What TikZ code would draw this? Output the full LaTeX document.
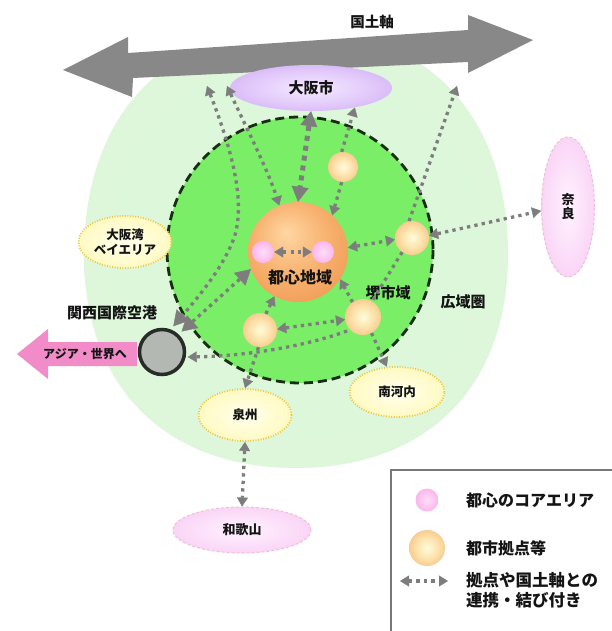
\documentclass[tikz,border=0pt]{standalone}
\usepackage{fontspec}
\setmainfont{Noto Sans CJK JP}
\usetikzlibrary{shapes.geometric,arrows.meta}

\pgfdeclareradialshading{paleG}{\pgfpointorigin}{rgb(0bp)=(0.86,0.965,0.85); rgb(38bp)=(0.875,0.97,0.865); rgb(50bp)=(0.925,0.982,0.92)}
\pgfdeclareradialshading{bigO}{\pgfpoint{-6bp}{10bp}}{rgb(0bp)=(1,0.84,0.64); rgb(18bp)=(0.97,0.70,0.44); rgb(50bp)=(0.91,0.50,0.22)}
\pgfdeclareradialshading{smallO}{\pgfpointorigin}{rgb(0bp)=(1,0.99,0.86); rgb(16bp)=(0.99,0.88,0.66); rgb(50bp)=(0.93,0.58,0.32)}
\pgfdeclareradialshading{pinkC}{\pgfpointorigin}{rgb(0bp)=(1,0.87,0.97); rgb(50bp)=(0.96,0.56,0.88)}
\pgfdeclareradialshading{yelE}{\pgfpointorigin}{rgb(0bp)=(1,1,0.93); rgb(25bp)=(1,0.98,0.76); rgb(50bp)=(1,0.92,0.42)}
\pgfdeclareradialshading{purE}{\pgfpointorigin}{rgb(0bp)=(0.96,0.92,1); rgb(20bp)=(0.88,0.78,0.98); rgb(50bp)=(0.73,0.52,0.93)}
\pgfdeclareradialshading{pinkE}{\pgfpointorigin}{rgb(0bp)=(1,0.95,1); rgb(50bp)=(0.96,0.72,0.93)}

\definecolor{igreen}{RGB}{122,238,102}
\definecolor{axisgray}{RGB}{136,136,136}
\definecolor{cgray}{RGB}{125,125,125}
\definecolor{asiapink}{RGB}{242,140,200}
\definecolor{ybord}{RGB}{236,200,70}
\definecolor{pbord}{RGB}{240,190,215}
\definecolor{airfill}{RGB}{180,184,178}
\definecolor{airbord}{RGB}{40,44,40}
\definecolor{txt}{RGB}{20,20,20}
\definecolor{leggray}{RGB}{120,120,120}

\tikzset{
  smtip/.tip={Triangle[length=9pt,width=11pt,line width=0.4pt]},
  bgtip/.tip={Triangle[length=15pt,width=17pt,line width=0.4pt]},
  dl/.style={draw=cgray, line width=3.3pt, dash pattern=on 3.3pt off 4.2pt},
  dlthick/.style={draw=cgray, line width=5pt, dash pattern=on 5pt off 5pt},
  lab/.style={text=txt, font=\bfseries\fontsize{15}{17}\selectfont, inner sep=0pt},
  obig/.style={circle, inner sep=0pt, minimum size=100pt, shade, shading=bigO},
  osm/.style={circle, inner sep=0pt, minimum size=#1, shade, shading=smallO},
  pinkc/.style={circle, inner sep=0pt, minimum size=#1, shade, shading=pinkC},
  yel/.style={ellipse, inner sep=0pt, minimum width=93pt, minimum height=52pt, shade, shading=yelE,
     draw=ybord, line width=1.8pt, dash pattern=on 1pt off 1.6pt, text=txt,
     font=\bfseries\fontsize{12.5}{15}\selectfont, align=center},
  pel/.style={ellipse, inner sep=0pt, shade, shading=pinkE, draw=pbord, line width=1pt,
     dash pattern=on 3pt off 2pt, text=txt, font=\bfseries\fontsize{13}{14}\selectfont, align=center},
}

\begin{document}
\begin{tikzpicture}[x=1pt,y=-1pt]
\useasboundingbox (0,0) rectangle (611,631);

% wide area (pale green)
\begin{scope}
  \clip (0,68) -- (611,44) -- (611,631) -- (0,631) -- cycle;
  \shade[shading=paleG] (296,30) .. controls (428,30) and (508,115) .. (508,255)
     .. controls (508,387) and (427,468) .. (296,468)
     .. controls (165,468) and (84,387) .. (84,255)
     .. controls (84,115) and (165,30) .. cycle;
\end{scope}

% Sakai city area (bright green, dashed)
\fill[igreen] (300,250) circle (133);
\draw[draw={rgb,255:red,25;green,45;blue,20}, line width=2.8pt, dash pattern=on 9pt off 5pt] (300,250) circle (133);

% national axis
\fill[axisgray] (63,70) -- (128,37) -- (128,53) -- (468,30) -- (468,15) -- (533,40)
   -- (468,73) -- (468,62) -- (133,78) -- (132,97) -- cycle;
\coordinate (ax1) at (207,86);
\coordinate (ax2) at (227,86);
\coordinate (ax3) at (457,86);
\node[lab, font=\bfseries\fontsize{14.5}{16}\selectfont] (kokudo) at (372,22) {国土軸};

% Asia arrow
\fill[asiapink] (17,354) -- (48,329) -- (48,342) -- (137,342) -- (137,366) -- (48,366) -- (48,379) -- cycle;
\node[lab, font=\bfseries\fontsize{12}{14}\selectfont] (asia) at (85,354) {アジア・世界へ};

% outer ellipses
\node[ellipse, inner sep=0pt, minimum width=162pt, minimum height=46pt, shade, shading=purE,
      text=txt, font=\bfseries\fontsize{15}{17}\selectfont] (osaka) at (311,88) {大阪市};
\node[yel] (bay) at (125,242) {大阪湾\\ベイエリア};
\node[yel] (sen) at (245,415) {泉州};
\node[yel, minimum width=95pt, minimum height=50pt] (nk) at (397,392) {南河内};
\node[pel, minimum width=53pt, minimum height=140pt] (nara) at (568,207) {奈\\良};
\node[pel, minimum width=138pt, minimum height=46pt] (waka) at (242,530) {和歌山};

% centre and hubs
\node[obig] (tosin) at (298,252) {};
\node[pinkc=22pt] (p1) at (263,252) {};
\node[pinkc=22pt] (p2) at (323,252) {};
\node[osm=30pt] (o1) at (343,167) {};
\node[osm=34pt] (o2) at (412,238) {};
\node[osm=34pt] (o3) at (260,330) {};
\node[osm=36pt] (o4) at (363,317) {};
\node[circle, inner sep=0pt, minimum size=45pt, fill=airfill, draw=airbord, line width=3.5pt] (air) at (162,352) {};

% labels
\node[lab, font=\bfseries\fontsize{16}{18}\selectfont] (tosinlab) at (300,277) {都心地域};
\node[lab] (sakai) at (388,293) {堺市域};
\node[lab] (koiki) at (463,302) {広域圏};
\node[lab] (kix) at (112,313) {関西国際空港};

% connectors
\draw[dl, smtip-bgtip, shorten >=4pt] (ax1) .. controls (232,150) and (245,200) .. (235,235)
   .. controls (225,265) and (200,295) .. (air.69);
\draw[dl, bgtip-bgtip, shorten <=4pt] (air.47) -- (tosin.200);
\draw[dl, smtip-smtip] (ax2) .. controls (245,125) and (268,170) .. (tosin.112);
\draw[dlthick, bgtip-bgtip] (osaka.south) -- (tosin.north);
\draw[dl, -smtip] (o1.95) -- (osaka.-24);
\draw[dl, -smtip] (o1.265) -- (tosin.47);
\draw[dl, -smtip] (o2.100) -- (ax3);
\draw[dl] (o2.235) -- (o4.60);
\draw[dl, -smtip] (o4.-62) -- (nk.112);
\draw[dl, smtip-smtip] (tosin.5) -- (o2.185);
\draw[dl, smtip-smtip] (o2.8) -- (nara.188);
\draw[dl, smtip-smtip] (p1.east) -- (p2.west);
\draw[dl, -smtip] (o4.125) -- (tosin.-33);
\draw[dl, smtip-smtip] (o3.3) -- (o4.188);
\draw[dl, smtip-, shorten <=2pt] (air.-12) .. controls (250,356) and (310,345) .. (o4.225);
\draw[dl, -smtip] (o3.70) -- (tosin.-118);
\draw[dl, -smtip] (o3.-95) -- (sen.north);
\draw[dl, smtip-smtip] (sen.south) -- (waka.north);

% legend
\draw[leggray, line width=1.3pt] (391,470) rectangle (625,645);
\node[pinkc=23pt] (lp) at (427,500) {};
\node[osm=36pt] (lo) at (427,548) {};
\coordinate (la1) at (400,581);
\coordinate (la2) at (448,581);
\draw[dl, smtip-smtip] (la1) -- (la2);
\node[lab, anchor=west, font=\bfseries\fontsize{16}{18}\selectfont] (lt1) at (466,500) {都心のコアエリア};
\node[lab, anchor=west, font=\bfseries\fontsize{16}{18}\selectfont] (lt2) at (466,548) {都市拠点等};
\node[lab, anchor=west, align=left, font=\bfseries\fontsize{16.5}{20}\selectfont] (lt3) at (466,590) {拠点や国土軸との\\連携・結び付き};
\end{tikzpicture}
\end{document}
